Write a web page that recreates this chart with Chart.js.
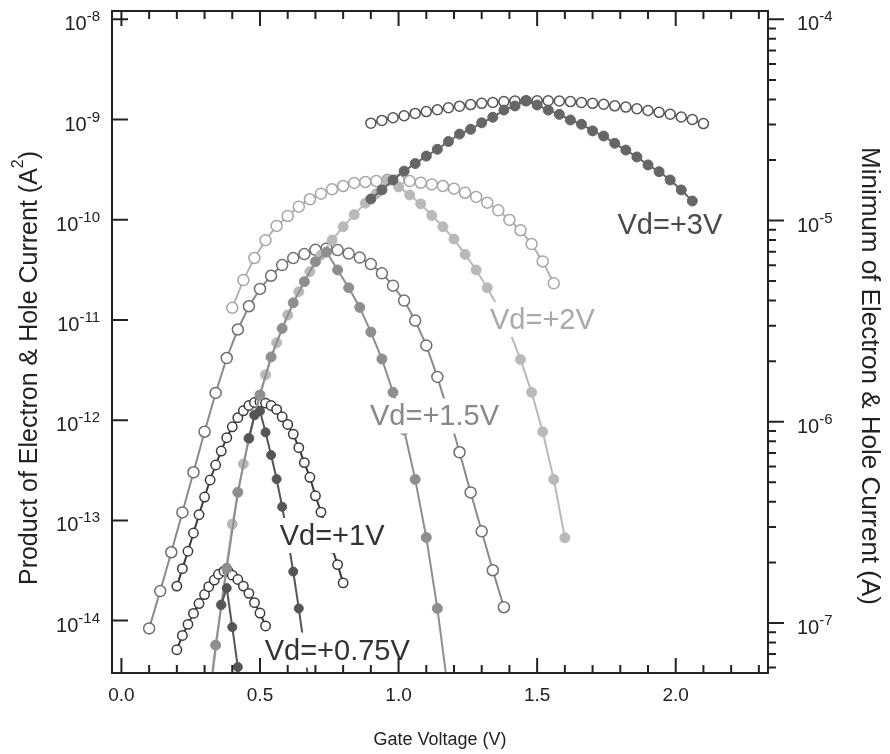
<!DOCTYPE html>
<html>
<head>
<meta charset="utf-8">
<script src="https://cdn.jsdelivr.net/npm/chart.js@4.4.1/dist/chart.umd.min.js"></script>
<style>
  html, body { margin: 0; padding: 0; background: #fff; }
  #wrap { width: 890px; height: 754px; }
</style>
</head>
<body>
<div id="wrap"><canvas id="myChart"></canvas></div>
<script>
// Gate voltage (V) and currents
// open circles = product Ie*Ih (A^2, left axis), filled = min(Ie, Ih) (A, right axis)
const vd3OpenV = [0.90,0.94,0.98,1.02,1.06,1.10,1.14,1.18,1.22,1.26,1.30,1.34,1.38,1.42,1.46,1.50,1.54,1.58,1.62,1.66,1.70,1.74,1.78,1.82,1.86,1.90,1.94,1.98,2.02,2.06,2.10];
const vd3Product = [9.2e-10,9.8e-10,1.04e-9,1.09e-9,1.15e-9,1.20e-9,1.25e-9,1.31e-9,1.36e-9,1.41e-9,1.45e-9,1.48e-9,1.51e-9,1.53e-9,1.54e-9,1.54e-9,1.54e-9,1.53e-9,1.51e-9,1.48e-9,1.45e-9,1.42e-9,1.37e-9,1.33e-9,1.28e-9,1.23e-9,1.18e-9,1.13e-9,1.06e-9,1.00e-9,9.1e-10];
const vd3FilledV = [0.90,0.94,0.98,1.02,1.06,1.10,1.14,1.18,1.22,1.26,1.30,1.34,1.38,1.42,1.46,1.50,1.54,1.58,1.62,1.66,1.70,1.74,1.78,1.82,1.86,1.90,1.94,1.98,2.02,2.06];
const vd3Min = [1.28e-5,1.42e-5,1.59e-5,1.76e-5,1.92e-5,2.09e-5,2.26e-5,2.47e-5,2.69e-5,2.84e-5,3.06e-5,3.26e-5,3.54e-5,3.71e-5,3.94e-5,3.75e-5,3.54e-5,3.37e-5,3.16e-5,3.01e-5,2.79e-5,2.63e-5,2.42e-5,2.24e-5,2.07e-5,1.89e-5,1.75e-5,1.59e-5,1.42e-5,1.25e-5];

const vd2OpenV = [0.40,0.44,0.48,0.52,0.56,0.60,0.64,0.68,0.72,0.76,0.80,0.84,0.88,0.92,0.96,1.00,1.04,1.08,1.12,1.16,1.20,1.24,1.28,1.32,1.36,1.40,1.44,1.48,1.52,1.56];
const vd2Product = [1.32e-11,2.50e-11,4.15e-11,6.25e-11,8.68e-11,1.09e-10,1.35e-10,1.60e-10,1.82e-10,2.01e-10,2.17e-10,2.33e-10,2.38e-10,2.43e-10,2.50e-10,2.49e-10,2.43e-10,2.34e-10,2.25e-10,2.17e-10,2.04e-10,1.86e-10,1.69e-10,1.48e-10,1.24e-10,9.95e-11,7.86e-11,5.71e-11,3.84e-11,2.32e-11];
const vd2FilledV = [0.32,0.36,0.40,0.44,0.48,0.52,0.56,0.60,0.64,0.68,0.72,0.76,0.80,0.84,0.88,0.92,0.96,1.00,1.04,1.08,1.12,1.16,1.20,1.24,1.28,1.32,1.36,1.40,1.44,1.48,1.52,1.56,1.60];
const vd2Min = [4.38e-8,1.23e-7,3.10e-7,6.17e-7,1.08e-6,1.71e-6,2.47e-6,3.39e-6,4.43e-6,5.57e-6,6.74e-6,8.00e-6,9.31e-6,1.07e-5,1.22e-5,1.36e-5,1.58e-5,1.47e-5,1.34e-5,1.21e-5,1.06e-5,9.31e-6,8.09e-6,6.79e-6,5.68e-6,4.63e-6,3.69e-6,2.83e-6,2.04e-6,1.40e-6,8.91e-7,5.17e-7,2.65e-7];

const vd15OpenV = [0.10,0.14,0.18,0.22,0.26,0.30,0.34,0.38,0.42,0.46,0.50,0.54,0.58,0.62,0.66,0.70,0.74,0.78,0.82,0.86,0.90,0.94,0.98,1.02,1.06,1.10,1.14,1.18,1.22,1.26,1.30,1.34,1.38];
const vd15Product = [8.36e-15,1.97e-14,4.81e-14,1.20e-13,3.02e-13,7.67e-13,1.87e-12,4.17e-12,8.03e-12,1.37e-11,2.04e-11,2.76e-11,3.53e-11,4.14e-11,4.54e-11,5.01e-11,5.17e-11,4.98e-11,4.59e-11,4.19e-11,3.61e-11,2.92e-11,2.20e-11,1.56e-11,9.86e-12,5.57e-12,2.70e-12,1.17e-12,4.78e-13,1.90e-13,7.78e-14,3.18e-14,1.36e-14];
const vd15FilledV = [0.30,0.34,0.38,0.42,0.46,0.50,0.54,0.58,0.62,0.66,0.70,0.74,0.78,0.82,0.86,0.90,0.94,0.98,1.02,1.06,1.10,1.14,1.18];
const vd15Min = [2.62e-8,7.76e-8,1.87e-7,4.46e-7,8.27e-7,1.36e-6,2.10e-6,2.91e-6,3.90e-6,4.97e-6,6.24e-6,6.97e-6,5.68e-6,4.63e-6,3.70e-6,2.79e-6,2.05e-6,1.40e-6,9.1e-7,5.17e-7,2.66e-7,1.18e-7,4.49e-8];

const vd1OpenV = [0.20,0.22,0.24,0.26,0.28,0.30,0.32,0.34,0.36,0.38,0.40,0.42,0.44,0.46,0.48,0.50,0.52,0.54,0.56,0.58,0.60,0.62,0.64,0.66,0.68,0.70,0.72,0.74,0.76,0.78,0.80];
const vd1Product = [2.21e-14,3.30e-14,4.92e-14,7.48e-14,1.14e-13,1.71e-13,2.53e-13,3.57e-13,4.92e-13,6.68e-13,8.59e-13,1.06e-12,1.24e-12,1.40e-12,1.50e-12,1.52e-12,1.48e-12,1.40e-12,1.28e-12,1.08e-12,9.06e-13,7.26e-13,5.32e-13,3.77e-13,2.69e-13,1.76e-13,1.21e-13,8.01e-14,5.31e-14,3.62e-14,2.38e-14];
const vd1FilledV = [0.46,0.48,0.50,0.52,0.54,0.56,0.58,0.60,0.62,0.64,0.66,0.68];
const vd1Min = [8.27e-7,1.08e-6,1.13e-6,8.86e-7,6.83e-7,5.19e-7,3.78e-7,2.64e-7,1.80e-7,1.18e-7,7.50e-8,4.54e-8];

const vd075OpenV = [0.20,0.22,0.24,0.26,0.28,0.30,0.315,0.335,0.35,0.37,0.385,0.40,0.42,0.44,0.46,0.48,0.50,0.52];
const vd075Product = [5.12e-15,7.11e-15,9.17e-15,1.18e-14,1.48e-14,1.82e-14,2.18e-14,2.54e-14,2.90e-14,3.11e-14,3.10e-14,2.84e-14,2.57e-14,2.21e-14,1.87e-14,1.51e-14,1.19e-14,8.84e-15];
const vd075FilledV = [0.36,0.38,0.40,0.42,0.44];
const vd075Min = [1.23e-7,1.49e-7,9.54e-8,6.04e-8,3.61e-8];

// axis ticks
const xMajorTicks = [0.0, 0.5, 1.0, 1.5, 2.0];
const xMinorTicks = [0.1,0.2,0.3,0.4,0.6,0.7,0.8,0.9,1.1,1.2,1.3,1.4,1.6,1.7,1.8,1.9,2.1,2.2,2.3];
const leftDecades = [-8, -9, -10, -11, -12, -13, -14];
const rightDecades = [-4, -5, -6, -7];

// curve labels: text, anchor gate voltage, anchor on product axis
const curveLabels = [
  { text: 'Vd=+3V', v: 1.790, p: 7.18e-11, color: '#4a4a4a' },
  { text: 'Vd=+2V', v: 1.330, p: 8.15e-12, color: '#a9a9a9' },
  { text: 'Vd=+1.5V', v: 0.897, p: 8.85e-13, color: '#888888' },
  { text: 'Vd=+1V', v: 0.571, p: 5.68e-14, color: '#333333' },
  { text: 'Vd=+0.75V', v: 0.517, p: 4.08e-15, color: '#333333' }
];

const FONT = '"Liberation Sans", Arial, Helvetica, sans-serif';

function pts(xs, ys) {
  return xs.map((x, i) => ({ x: x, y: ys[i] }));
}

function openSeries(xs, ys, edge, line, r) {
  return {
    data: pts(xs, ys), yAxisID: 'y', showLine: true,
    borderColor: line, borderWidth: 2,
    pointRadius: r, pointBorderWidth: 1.5,
    pointBorderColor: edge, pointBackgroundColor: '#ffffff'
  };
}

function filledSeries(xs, ys, color, r) {
  return {
    data: pts(xs, ys), yAxisID: 'y2', showLine: true,
    borderColor: color, borderWidth: 2,
    pointRadius: r, pointBorderWidth: 1,
    pointBorderColor: color, pointBackgroundColor: color
  };
}

// first dataset is drawn on top
const datasets = [
  filledSeries(vd3FilledV, vd3Min, '#666666', 5),
  filledSeries(vd1FilledV, vd1Min, '#555555', 4.5),
  filledSeries(vd075FilledV, vd075Min, '#555555', 4.5),
  filledSeries(vd15FilledV, vd15Min, '#8e8e8e', 5),
  filledSeries(vd2FilledV, vd2Min, '#b9b9b9', 5),
  openSeries(vd3OpenV, vd3Product, '#555555', '#555555', 5),
  openSeries(vd1OpenV, vd1Product, '#3a3a3a', '#3a3a3a', 4.7),
  openSeries(vd075OpenV, vd075Product, '#3a3a3a', '#3a3a3a', 4.7),
  openSeries(vd15OpenV, vd15Product, '#6e6e6e', '#8a8a8a', 5.5),
  openSeries(vd2OpenV, vd2Product, '#a5a5a5', '#b3b3b3', 5.5)
];

function drawPower(ctx, exp, x, y, alignRight) {
  const sup = String(exp);
  ctx.font = '20px ' + FONT;
  const wb = ctx.measureText('10').width;
  ctx.font = '15px ' + FONT;
  const ws = ctx.measureText(sup).width;
  const x0 = alignRight ? x - wb - ws : x;
  ctx.textAlign = 'left';
  ctx.font = '20px ' + FONT;
  ctx.fillText('10', x0, y + 11);
  ctx.font = '15px ' + FONT;
  ctx.fillText(sup, x0 + wb, y + 2);
}

const axisDecor = {
  id: 'axisDecor',
  afterDatasetsDraw(chart) {
    const ctx = chart.ctx;
    const xs = chart.scales.x, ys = chart.scales.y;
    ctx.save();
    ctx.font = '29px ' + FONT;
    ctx.textAlign = 'left';
    ctx.textBaseline = 'alphabetic';
    curveLabels.forEach(l => {
      const px = xs.getPixelForValue(l.v);
      const py = ys.getPixelForValue(l.p);
      const w = ctx.measureText(l.text).width;
      ctx.fillStyle = '#ffffff';
      ctx.fillRect(px - 3, py - 27, w + 6, 35);
      ctx.fillStyle = l.color;
      ctx.fillText(l.text, px, py);
    });
    ctx.restore();
  },
  afterDraw(chart) {
    const ctx = chart.ctx;
    const a = chart.chartArea;
    const xs = chart.scales.x, ys = chart.scales.y, y2 = chart.scales.y2;
    ctx.save();
    ctx.strokeStyle = '#222222';
    ctx.fillStyle = '#222222';
    ctx.lineWidth = 2;
    ctx.strokeRect(a.left, a.top, a.right - a.left, a.bottom - a.top);

    ctx.beginPath();
    // x ticks, bottom and top, pointing in
    xMajorTicks.forEach(v => {
      const px = xs.getPixelForValue(v);
      ctx.moveTo(px, a.bottom); ctx.lineTo(px, a.bottom - 15);
      ctx.moveTo(px, a.top); ctx.lineTo(px, a.top + 15);
    });
    xMinorTicks.forEach(v => {
      const px = xs.getPixelForValue(v);
      ctx.moveTo(px, a.bottom); ctx.lineTo(px, a.bottom - 8);
      ctx.moveTo(px, a.top); ctx.lineTo(px, a.top + 8);
    });
    // left decades, pointing in
    leftDecades.forEach(e => {
      const py = ys.getPixelForValue(Math.pow(10, e));
      ctx.moveTo(a.left, py); ctx.lineTo(a.left + 16, py);
    });
    // right axis, pointing out
    rightDecades.forEach(e => {
      const py = y2.getPixelForValue(Math.pow(10, e));
      ctx.moveTo(a.right, py); ctx.lineTo(a.right + 16, py);
    });
    for (let e = -8; e <= -4; e++) {
      for (let m = 2; m <= 9; m++) {
        const v = m * Math.pow(10, e);
        if (v < y2.min || v > y2.max) continue;
        const py = y2.getPixelForValue(v);
        ctx.moveTo(a.right, py); ctx.lineTo(a.right + 8, py);
      }
    }
    ctx.stroke();

    // tick labels
    ctx.textBaseline = 'alphabetic';
    ctx.font = '19px ' + FONT;
    ctx.textAlign = 'center';
    xMajorTicks.forEach(v => {
      ctx.fillText(v.toFixed(1), xs.getPixelForValue(v), a.bottom + 28);
    });
    leftDecades.forEach(e => {
      drawPower(ctx, e, a.left - 12, ys.getPixelForValue(Math.pow(10, e)), true);
    });
    rightDecades.forEach(e => {
      drawPower(ctx, e, a.right + 29, y2.getPixelForValue(Math.pow(10, e)), false);
    });

    // axis titles
    ctx.font = '18px ' + FONT;
    ctx.textAlign = 'center';
    ctx.fillText('Gate Voltage (V)', (a.left + a.right) / 2, a.bottom + 72);

    // left title with superscript
    ctx.save();
    ctx.translate(37, 368);
    ctx.rotate(-Math.PI / 2);
    const mainTxt = 'Product of Electron & Hole Current (A';
    ctx.font = '25px ' + FONT;
    const w1 = ctx.measureText(mainTxt).width;
    const w3 = ctx.measureText(')').width;
    ctx.font = '16px ' + FONT;
    const w2 = ctx.measureText('2').width;
    let x0 = -(w1 + w2 + w3) / 2;
    ctx.textAlign = 'left';
    ctx.font = '25px ' + FONT;
    ctx.fillText(mainTxt, x0, 0);
    ctx.font = '16px ' + FONT;
    ctx.fillText('2', x0 + w1, -14);
    ctx.font = '25px ' + FONT;
    ctx.fillText(')', x0 + w1 + w2, 0);
    ctx.restore();

    ctx.save();
    ctx.translate(862, 376);
    ctx.rotate(Math.PI / 2);
    ctx.font = '26px ' + FONT;
    ctx.textAlign = 'center';
    ctx.fillText('Minimum of Electron & Hole Current (A)', 0, 0);
    ctx.restore();

    ctx.restore();
  }
};

const ctx = document.getElementById('myChart').getContext('2d');
const myChart = new Chart(ctx, {
  type: 'scatter',
  data: { datasets: datasets },
  options: {
    responsive: true,
    maintainAspectRatio: false,
    animation: false,
    layout: { padding: { left: 112, right: 122, top: 11, bottom: 81 } },
    plugins: { legend: { display: false }, tooltip: { enabled: false } },
    scales: {
      x: { type: 'linear', min: -0.034, max: 2.333, display: false },
      y: { type: 'logarithmic', position: 'left', min: 3.18e-15, max: 1.21e-8, display: false },
      y2: { type: 'logarithmic', position: 'right', min: 5.64e-8, max: 1.10e-4, display: false }
    }
  },
  plugins: [axisDecor]
});
</script>
</body>
</html>
